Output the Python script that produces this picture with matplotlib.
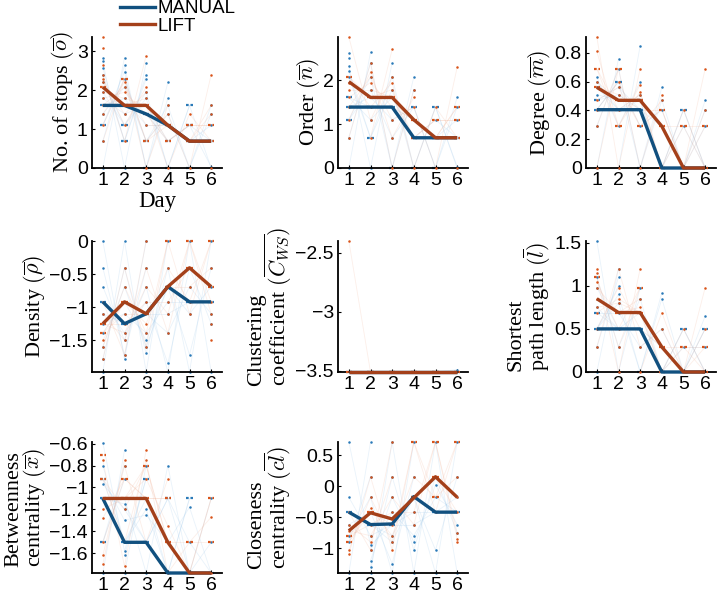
import matplotlib
matplotlib.use('Agg')
import matplotlib.pyplot as plt
from matplotlib.ticker import FuncFormatter
from matplotlib.lines import Line2D
import numpy as np

plt.rcParams['font.family'] = ['Liberation Sans', 'DejaVu Sans']
plt.rcParams['mathtext.fontset'] = 'cm'

days = [1, 2, 3, 4, 5, 6]
groups = ['MANUAL', 'LIFT']

# median lines
stops_med_manual = [1.61, 1.61, 1.39, 1.10, 0.69, 0.69]
stops_med_lift = [2.08, 1.61, 1.61, 1.10, 0.69, 0.69]
order_med_manual = [1.39, 1.39, 1.39, 0.69, 0.69, 0.69]
order_med_lift = [1.97, 1.61, 1.61, 1.10, 0.69, 0.69]
degree_med_manual = [0.405, 0.405, 0.405, 0, 0, 0]
degree_med_lift = [0.56, 0.47, 0.47, 0.29, 0, 0]
density_med_manual = [-0.92, -1.25, -1.10, -0.69, -0.92, -0.92]
density_med_lift = [-1.25, -0.92, -1.10, -0.69, -0.405, -0.69]
clust_med_manual = [-3.51, -3.51, -3.51, -3.51, -3.51, -3.51]
clust_med_lift = [-3.51, -3.51, -3.51, -3.51, -3.51, -3.51]
path_med_manual = [0.5, 0.5, 0.5, 0, 0, 0]
path_med_lift = [0.85, 0.69, 0.69, 0.29, 0, 0]
betw_med_manual = [-1.1, -1.5, -1.5, -1.78, -1.78, -1.78]
betw_med_lift = [-1.1, -1.1, -1.1, -1.5, -1.78, -1.78]
close_med_manual = [-0.42, -0.62, -0.61, -0.17, -0.42, -0.42]
close_med_lift = [-0.72, -0.43, -0.53, -0.19, 0.15, -0.18]

# individual subject values per day
stops_manual = [
    [0, 0.69, 1.10, 1.10, 1.39, 1.61, 1.61, 1.61, 1.79, 1.95, 2.20, 2.40, 2.56, 2.74, 2.84],
    [0, 0.69, 0.69, 1.10, 1.10, 1.39, 1.61, 1.61, 1.79, 2.08, 2.30, 2.48, 2.64, 2.84],
    [0, 0, 0.69, 0.69, 1.10, 1.39, 1.39, 1.61, 1.79, 1.95, 2.30, 2.40, 2.71],
    [0, 0, 0.69, 0.69, 1.10, 1.10, 1.39, 1.61, 1.79, 2.20],
    [0, 0, 0.69, 0.69, 1.10, 1.10, 1.61, 1.61],
    [0.03, 0, 0.69, 0.69, 1.10, 1.39, 1.61],
]
stops_lift = [
    [0.69, 1.10, 1.39, 1.61, 1.79, 1.95, 2.08, 2.08, 2.20, 2.30, 2.40, 2.64, 3.09, 3.37],
    [0.69, 1.10, 1.39, 1.61, 1.61, 1.79, 1.95, 2.08, 2.20, 2.30, 2.30],
    [0, 0.69, 0.69, 1.10, 1.39, 1.61, 1.61, 1.79, 1.95, 2.08, 2.89],
    [0, 0.69, 0.69, 1.10, 1.10, 1.39, 1.61],
    [0, 0.69, 0.69, 1.10, 1.10, 1.39],
    [0, 0.69, 0.69, 1.10, 1.10, 1.39, 1.61, 2.40],
]
order_manual = [
    [0, 0.69, 1.10, 1.10, 1.39, 1.39, 1.61, 1.61, 2.08, 2.21, 2.33, 2.52, 2.63],
    [0, 0.69, 0.69, 1.10, 1.39, 1.39, 1.61, 1.79, 2.08, 2.40, 2.64],
    [0, 0, 0.69, 1.10, 1.39, 1.39, 1.61, 1.79, 2.08, 2.40],
    [0, 0, 0.69, 0.69, 1.10, 1.39, 1.39, 1.79, 2.08],
    [0, 0, 0.69, 0.69, 1.10, 1.39, 1.39],
    [0.03, 0, 0.69, 0.69, 1.10, 1.39, 1.61],
]
order_lift = [
    [0.69, 1.10, 1.39, 1.61, 1.79, 1.95, 2.08, 2.08, 2.99],
    [0.69, 1.10, 1.39, 1.61, 1.61, 1.79, 1.95, 2.08, 2.20, 2.40],
    [0, 0.69, 1.10, 1.39, 1.61, 1.61, 1.79, 1.95, 2.08, 2.71],
    [0, 0.69, 0.69, 1.10, 1.10, 1.39, 1.61, 1.79],
    [0, 0.69, 0.69, 1.10, 1.10, 1.39],
    [0, 0.69, 0.69, 1.10, 1.10, 1.39, 1.39, 2.30],
]
degree_manual = [
    [0, 0.29, 0.405, 0.405, 0.47, 0.47, 0.51, 0.56, 0.60, 0.63],
    [0, 0.29, 0.405, 0.405, 0.47, 0.51, 0.56, 0.60, 0.60, 0.69, 0.76],
    [0, 0, 0.29, 0.405, 0.405, 0.47, 0.47, 0.51, 0.60, 0.85],
    [0, 0, 0, 0.29, 0.405, 0.47, 0.56],
    [0, 0, 0, 0.29, 0.405, 0.405],
    [0, 0, 0, 0.29, 0.405, 0.47],
]
degree_lift = [
    [0, 0.29, 0.405, 0.47, 0.56, 0.56, 0.60, 0.69, 0.69, 0.81, 0.91],
    [0, 0.29, 0.29, 0.405, 0.47, 0.47, 0.51, 0.56, 0.60, 0.69, 0.69],
    [0, 0.29, 0.29, 0.405, 0.47, 0.47, 0.51, 0.53, 0.58, 0.69],
    [0, 0, 0.29, 0.29, 0.405, 0.405, 0.47, 0.51],
    [0, 0, 0, 0.29, 0.29, 0.405],
    [0, 0, 0, 0.29, 0.29, 0.405, 0.69],
]
density_manual = [
    [0, -0.405, -0.69, -0.92, -0.92, -1.10, -1.25, -1.39, -1.60, -1.79, -1.98],
    [0, -0.405, -0.69, -0.92, -1.10, -1.25, -1.25, -1.39, -1.50, -1.72, -1.79],
    [0, -0.405, -0.69, -0.92, -1.10, -1.10, -1.39, -1.50, -1.60, -1.70, -1.98],
    [0, -0.405, -0.69, -0.69, -0.92, -1.10, -1.39, -1.85, -1.98],
    [0, -0.405, -0.69, -0.92, -0.92, -1.10, -1.72, -1.98],
    [0, -0.405, -0.69, -0.92, -0.92, -1.10, -1.25, -1.98],
]
density_lift = [
    [-0.92, -1.10, -1.25, -1.25, -1.39, -1.39, -1.50, -1.60, -1.79],
    [-0.405, -0.69, -0.92, -0.92, -1.10, -1.25, -1.39, -1.50, -1.72],
    [0, -0.405, -0.69, -0.92, -1.10, -1.10, -1.25, -1.39, -1.60],
    [0, 0, -0.405, -0.69, -0.69, -0.92, -1.10, -1.39],
    [0, 0, -0.405, -0.405, -0.69, -0.92, -1.10],
    [0, 0, -0.405, -0.69, -0.69, -0.92, -1.10, -1.25, -1.50],
]
clust_manual = [
    [-3.51, -3.51, -3.51],
    [-3.51, -3.51, -3.51],
    [-3.51, -3.51, -3.51],
    [-3.51, -3.51, -3.51],
    [-3.51, -3.51, -3.51],
    [-3.49, -3.51, -3.51],
]
clust_lift = [
    [-2.40, -3.51, -3.51],
    [-3.51, -3.51, -3.51],
    [-3.51, -3.51, -3.51],
    [-3.51, -3.51, -3.51],
    [-3.51, -3.51, -3.51],
    [-3.51, -3.51, -3.51],
]
path_manual = [
    [0, 0.29, 0.5, 0.5, 0.5, 0.69, 0.69, 0.75, 0.98, 1.10, 1.52],
    [0, 0.29, 0.5, 0.5, 0.5, 0.69, 0.80, 0.90, 1.00, 1.10, 1.20],
    [0, 0, 0.29, 0.5, 0.5, 0.69, 0.85, 0.98],
    [0, 0, 0, 0.29, 0.5, 0.85, 0.92],
    [0, 0, 0, 0.29, 0.5, 0.5],
    [0, 0, 0.29, 0.5, 0.5, 0.65],
]
path_lift = [
    [0.29, 0.5, 0.69, 0.75, 0.85, 0.98, 1.05, 1.10, 1.10, 1.15, 1.20],
    [0, 0.29, 0.5, 0.69, 0.69, 0.80, 0.85, 0.98, 1.20],
    [0, 0.29, 0.5, 0.69, 0.69, 0.75, 0.85, 0.98, 0.98, 1.20],
    [0, 0, 0.29, 0.29, 0.5, 0.69],
    [0, 0, 0, 0.29, 0.29, 0.5],
    [0, 0, 0.29, 0.29, 0.5, 0.98],
]
betw_manual = [
    [-0.59, -0.80, -0.92, -0.92, -0.97, -1.10, -1.10, -1.50, -1.50, -1.78],
    [-0.66, -0.80, -0.92, -1.10, -1.15, -1.20, -1.30, -1.50, -1.50, -1.58, -1.62, -1.78],
    [-0.80, -0.92, -0.92, -1.10, -1.20, -1.25, -1.50, -1.50, -1.78],
    [-0.80, -1.10, -1.10, -1.50, -1.78, -1.78],
    [-1.10, -1.10, -1.18, -1.50, -1.78, -1.78],
    [-1.10, -1.50, -1.78, -1.78],
]
betw_lift = [
    [-0.70, -0.70, -0.75, -0.92, -0.92, -1.10, -1.20, -1.28, -1.50, -1.62, -1.70],
    [-0.75, -0.80, -0.92, -0.92, -1.10, -1.10, -1.20, -1.50, -1.72],
    [-0.66, -0.75, -0.80, -0.80, -0.92, -1.10, -1.10, -1.50],
    [-0.92, -1.10, -1.10, -1.35, -1.50, -1.50, -1.78],
    [-1.50, -1.50, -1.78, -1.78],
    [-1.10, -1.10, -1.27, -1.50, -1.50, -1.78],
]
close_manual = [
    [0.71, -0.18, -0.42, -0.42, -0.62, -0.80, -0.90, -1.40],
    [0.71, 0.15, -0.18, -0.42, -0.62, -0.62, -0.80, -0.95, -1.03, -1.20, -1.30, -1.40],
    [0.71, 0.15, -0.18, -0.42, -0.62, -0.62, -0.80, -0.90, -1.25, -1.40],
    [0.71, 0.15, -0.18, -0.18, -0.42, -0.62, -0.80, -0.90, -1.03, -1.40],
    [0.71, 0.15, 0.02, -0.18, -0.42, -0.42, -1.03, -1.40],
    [0.71, 0.15, -0.18, -0.42, -0.42, -0.62, -0.75, -1.40],
]
close_lift = [
    [-0.42, -0.62, -0.72, -0.80, -0.80, -0.90, -0.90, -1.03, -1.10],
    [0.15, -0.18, -0.36, -0.42, -0.42, -0.62, -0.80, -0.90, -1.03],
    [0.71, 0.15, -0.18, -0.42, -0.53, -0.62, -0.80, -0.90, -1.03],
    [0.71, 0.71, 0.15, -0.18, -0.18, -0.42, -0.62],
    [0.71, 0.71, 0.15, 0.15, -0.18, -0.18, -0.42],
    [0.71, 0.71, 0.15, -0.18, -0.42, -0.75, -0.85, -0.90],
]

ylabels = [
    r'No. of stops $(\overline{o})$',
    r'Order $(\overline{n})$',
    r'Degree $(\overline{m})$',
    r'Density $(\overline{\rho})$',
    'Clustering\n' + r'coefficient $(\overline{C_{WS}})$',
    'Shortest\n' + r'path length $(\overline{l})$',
    'Betweenness\n' + r'centrality $(\overline{x})$',
    'Closeness\n' + r'centrality $(\overline{cl})$',
]
ylims = [(0, 3.37), (0, 2.99), (0, 0.91), (-1.98, 0), (-3.51, -2.40),
         (0, 1.52), (-1.78, -0.585), (-1.40, 0.71)]
yticks = [[0, 1, 2, 3], [0, 1, 2], [0, 0.2, 0.4, 0.6, 0.8], [-1.5, -1, -0.5, 0],
          [-3.5, -3, -2.5], [0, 0.5, 1, 1.5], [-1.6, -1.4, -1.2, -1, -0.8, -0.6],
          [-1, -0.5, 0, 0.5]]
points = [(stops_manual, stops_lift), (order_manual, order_lift),
          (degree_manual, degree_lift), (density_manual, density_lift),
          (clust_manual, clust_lift), (path_manual, path_lift),
          (betw_manual, betw_lift), (close_manual, close_lift)]
medians = [(stops_med_manual, stops_med_lift), (order_med_manual, order_med_lift),
           (degree_med_manual, degree_med_lift), (density_med_manual, density_med_lift),
           (clust_med_manual, clust_med_lift), (path_med_manual, path_med_lift),
           (betw_med_manual, betw_med_lift), (close_med_manual, close_med_lift)]

dot_colors = ['#2a7ab8', '#d9541a']
faint_colors = ['#9cc7ea', '#f2b49a']
line_colors = ['#11507f', '#a4401a']

# pixel boxes (left, top) of each axes
lefts = [92, 338, 586]
tops = [37, 241, 442]
W, H = 720, 598
aw, ah = 130, 131

fig = plt.figure(figsize=(7.2, 5.98), dpi=100)
fmt = FuncFormatter(lambda v, p: f'{v:g}'.replace('-', '\u2212'))
serif = ['Liberation Serif', 'DejaVu Serif']

for k in range(8):
    r, c = divmod(k, 3)
    ax = fig.add_axes([lefts[c] / W, 1 - (tops[r] + ah) / H, aw / W, ah / H])

    for g in range(2):
        vals = points[k][g]
        # faint subject trajectories
        for d in range(5):
            for a, b in zip(sorted(vals[d]), sorted(vals[d + 1])[::-1]):
                ax.plot([days[d], days[d + 1]], [a, b], color=faint_colors[g],
                        lw=0.6, alpha=0.22, zorder=1)
        # dots and dashes
        for d in range(6):
            uniq, cnt = np.unique(vals[d], return_counts=True)
            for v, n in zip(uniq, cnt):
                if n > 1:
                    ax.plot([days[d] - 0.15, days[d] + 0.15], [v, v], color=dot_colors[g],
                            lw=1.6, ls=(0, (1.2, 0.8)), zorder=2 + g, clip_on=False)
                else:
                    ax.plot(days[d], v, 'o', ms=1.8, color=dot_colors[g],
                            mec='none', zorder=2 + g, clip_on=False)
    for g in range(2):
        ax.plot(days, medians[k][g], color=line_colors[g], lw=2.4, zorder=5,
                clip_on=False, solid_capstyle='butt')

    ax.set_xlim(0.5, 6.5)
    ax.set_ylim(*ylims[k])
    ax.set_xticks(days)
    ax.set_yticks(yticks[k])
    ax.yaxis.set_major_formatter(fmt)
    ax.tick_params(direction='in', length=2, labelsize=14, pad=3)
    for s in ['top', 'right']:
        ax.spines[s].set_visible(False)
    for s in ['left', 'bottom']:
        ax.spines[s].set_linewidth(1.3)
    ax.set_ylabel(ylabels[k], family=serif, fontsize=16, multialignment='left',
                  linespacing=0.85, labelpad=1)
    if k == 0:
        ax.set_xlabel('Day', family=serif, fontsize=16.5, labelpad=1)

handles = [Line2D([], [], color=line_colors[g], lw=2.4) for g in range(2)]
fig.legend(handles, groups, loc='upper left', bbox_to_anchor=(112 / W, 1.012),
           frameon=False, fontsize=13.5, handlelength=1.9, handletextpad=0.15,
           labelspacing=0.0, borderaxespad=0)

fig.savefig('out.png', dpi=100)
